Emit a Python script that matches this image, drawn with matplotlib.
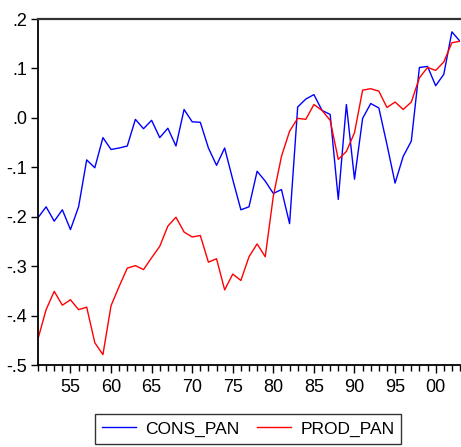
import numpy as np
import matplotlib
matplotlib.use('Agg')
import matplotlib.pyplot as plt
from matplotlib.ticker import MultipleLocator, FuncFormatter

years = list(range(1951, 2004))

cons_pan = [-0.202, -0.180, -0.209, -0.186, -0.226, -0.180, -0.085, -0.101, -0.040, -0.064,
            -0.061, -0.057, -0.003, -0.022, -0.005, -0.040, -0.021, -0.057, 0.017, -0.008,
            -0.009, -0.061, -0.096, -0.061, -0.125, -0.186, -0.180, -0.108, -0.128, -0.153,
            -0.145, -0.214, 0.022, 0.038, 0.047, 0.015, 0.007, -0.165, 0.027, -0.124,
            -0.001, 0.029, 0.020, -0.054, -0.132, -0.078, -0.047, 0.102, 0.104, 0.065,
            0.088, 0.174, 0.155]

prod_pan = [-0.447, -0.388, -0.351, -0.379, -0.368, -0.388, -0.383, -0.455, -0.479, -0.380,
            -0.341, -0.304, -0.299, -0.307, -0.283, -0.260, -0.219, -0.201, -0.231, -0.241,
            -0.238, -0.292, -0.285, -0.348, -0.316, -0.329, -0.281, -0.255, -0.281, -0.158,
            -0.078, -0.027, -0.001, -0.003, 0.027, 0.015, -0.005, -0.084, -0.068, -0.030,
            0.056, 0.059, 0.054, 0.021, 0.032, 0.017, 0.032, 0.081, 0.102, 0.096,
            0.113, 0.152, 0.155]

plt.rcParams['font.family'] = ['Liberation Sans', 'DejaVu Sans']

W, H = 461, 447
fig = plt.figure(figsize=(W / 100, H / 100), dpi=100)
ax = fig.add_axes([38 / W, (H - 365) / H, 422 / W, 346 / H])

ax.plot(years, cons_pan, color='#0000FF', lw=1.0, label='CONS_PAN')
ax.plot(years, prod_pan, color='#FF0000', lw=1.0, label='PROD_PAN')

ax.set_xlim(1951, 2003)
ax.set_ylim(-0.5, 0.2)

ax.xaxis.set_major_locator(MultipleLocator(5))
ax.xaxis.set_minor_locator(MultipleLocator(1))
ax.yaxis.set_major_locator(MultipleLocator(0.1))
ax.xaxis.set_major_formatter(FuncFormatter(lambda v, p: '%02d' % (int(round(v)) % 100)))

def yfmt(v, p):
    s = '%.1f' % v
    if s == '-0.0':
        s = '0.0'
    return s.replace('0.', '.', 1)
ax.yaxis.set_major_formatter(FuncFormatter(yfmt))

ax.tick_params(axis='both', which='major', direction='out', labelsize=13, color='black')
ax.tick_params(axis='x', which='major', length=6, width=1, pad=4)
ax.tick_params(axis='x', which='minor', length=4, width=1)
ax.tick_params(axis='y', which='major', length=5, width=1, pad=3)

ax.spines['right'].set_visible(False)
ax.spines['left'].set_linewidth(1.3)
ax.spines['bottom'].set_linewidth(1.3)
ax.spines['top'].set_linewidth(1.6)
ax.spines['top'].set_color('#333333')

leg = fig.legend(loc='center', bbox_to_anchor=(248 / W, 1 - 429 / H), ncol=2,
                 fontsize=12.5, frameon=True, fancybox=False, edgecolor='black',
                 handlelength=2.0, columnspacing=1.0, handletextpad=0.5,
                 borderpad=0.4, borderaxespad=0)
leg.get_frame().set_linewidth(1.0)

fig.savefig('out.png', dpi=100)
